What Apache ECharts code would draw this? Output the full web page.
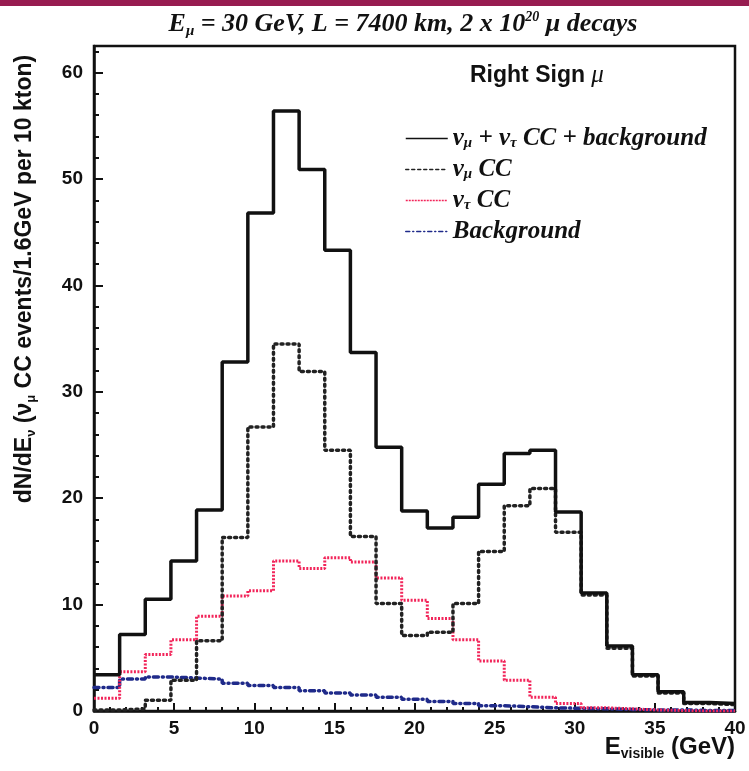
<!DOCTYPE html>
<html>
<head>
<meta charset="utf-8">
<script src="https://cdn.jsdelivr.net/npm/echarts@6/dist/echarts.min.js"></script>
<style>
  html, body { margin: 0; padding: 0; background: #fff; }
  #main { width: 749px; height: 771px; }
</style>
</head>
<body>
<div id="main"></div>
<script>
var dom = document.getElementById("main");
var chart = echarts.init(dom);

// histogram bins: 25 bins of 1.6 GeV from 0 to 40
var binWidth = 1.6;
var xTicks = [0, 5, 10, 15, 20, 25, 30, 35, 40];
var yTicks = [0, 10, 20, 30, 40, 50, 60];

var total = [3.4, 7.2, 10.5, 14.1, 18.9, 32.8, 46.8, 56.4, 50.9, 43.3, 33.7, 24.8, 18.8, 17.2, 18.2, 21.3, 24.2, 24.5, 18.7, 11.1, 6.1, 3.4, 1.8, 0.8, 0.7];
var numuCC = [0.1, 0.2, 1.0, 2.9, 6.6, 16.3, 26.7, 34.5, 31.9, 24.5, 16.4, 10.1, 7.1, 7.4, 10.1, 15.0, 19.3, 20.9, 16.8, 10.9, 5.9, 3.3, 1.7, 0.7, 0.6];
var nutauCC = [1.2, 3.7, 5.3, 6.7, 8.9, 10.8, 11.3, 14.1, 13.4, 14.4, 14.0, 12.5, 10.4, 8.7, 6.7, 4.7, 2.9, 1.3, 0.7, 0.3, 0.2, 0.1, 0.05, 0, 0];
var background = [2.2, 3.0, 3.2, 3.1, 3.0, 2.6, 2.4, 2.2, 1.9, 1.7, 1.5, 1.3, 1.1, 0.9, 0.7, 0.5, 0.4, 0.3, 0.25, 0.2, 0.15, 0.1, 0.1, 0.05, 0.05];

// turn bin contents into step points (left edge of each bin + closing point)
function steps(vals) {
  var pts = vals.map(function (v, i) { return [+(i * binWidth).toFixed(2), v]; });
  pts.push([+(vals.length * binWidth).toFixed(2), vals[vals.length - 1]]);
  return pts;
}

var serif = 'Liberation Serif';
var sans = 'Liberation Sans';

var legendLabels = {
  total: 'ν{sub|μ} + ν{sub|τ} CC + background',
  numu: 'ν{sub|μ} CC',
  nutau: 'ν{sub|τ} CC',
  bkg: 'Background'
};

option = {
  animation: false,
  backgroundColor: '#fff',
  title: {
    text: '{n|E}{s|μ}{n| = 30 GeV, L = 7400 km, 2 x 10}{p|20}{n| μ decays}',
    left: 398,
    top: 5,
    textAlign: 'center',
    textStyle: {
      rich: {
        n: { fontFamily: serif, fontStyle: 'italic', fontWeight: 'bold', fontSize: 26, color: '#111' },
        s: { fontFamily: serif, fontStyle: 'italic', fontWeight: 'bold', fontSize: 15, color: '#111', verticalAlign: 'bottom', padding: [14, 0, 0, 0] },
        p: { fontFamily: serif, fontStyle: 'italic', fontWeight: 'bold', fontSize: 14, color: '#111', verticalAlign: 'top', padding: [0, 0, 12, 0] }
      }
    }
  },
  grid: {
    left: 94, right: 14, top: 46, bottom: 60,
    show: true, borderColor: '#111', borderWidth: 2.5, backgroundColor: 'transparent'
  },
  legend: {
    orient: 'vertical',
    left: 400,
    top: 121,
    itemWidth: 42,
    itemHeight: 10,
    itemGap: 6,
    itemStyle: { opacity: 0 },
    data: [
      { name: 'total', lineStyle: { width: 1.5 } },
      { name: 'numu', lineStyle: { width: 1.5, type: [3, 3] } },
      { name: 'nutau', lineStyle: { width: 1.5, type: [2, 1] } },
      { name: 'bkg', lineStyle: { width: 1.5, type: [4, 3, 1, 3] } }
    ],
    formatter: function (name) { return legendLabels[name]; },
    textStyle: {
      fontFamily: serif, fontStyle: 'italic', fontWeight: 'bold', fontSize: 25, color: '#111',
      lineHeight: 24,
      padding: [0, 0, 0, 0],
      rich: {
        sub: { fontSize: 15, fontFamily: serif, fontStyle: 'italic', fontWeight: 'bold', verticalAlign: 'bottom', padding: [14, 0, 0, 0], color: '#111' }
      }
    }
  },
  xAxis: {
    type: 'value',
    min: xTicks[0],
    max: xTicks[xTicks.length - 1],
    interval: 5,
    axisLine: { lineStyle: { color: '#111', width: 2.5 } },
    axisTick: { inside: true, length: 8, lineStyle: { color: '#111', width: 2 } },
    minorTick: { show: true, splitNumber: 5, length: 4, lineStyle: { color: '#111', width: 2 } },
    splitLine: { show: false },
    axisLabel: { margin: 8, fontFamily: sans, fontWeight: 'bold', fontSize: 19, color: '#111' }
  },
  yAxis: {
    type: 'value',
    min: yTicks[0],
    max: 62.5,
    interval: 10,
    axisLine: { lineStyle: { color: '#111', width: 2.5 } },
    axisTick: { inside: true, length: 9, lineStyle: { color: '#111', width: 2 } },
    minorTick: { show: true, splitNumber: 5, length: 5, lineStyle: { color: '#111', width: 2 } },
    splitLine: { show: false },
    axisLabel: { margin: 11, showMaxLabel: false, fontFamily: sans, fontWeight: 'bold', fontSize: 19, color: '#111' }
  },
  series: [
    {
      name: 'bkg', type: 'line', step: 'end', symbol: 'none', data: steps(background),
      lineStyle: { color: '#1f2a8a', width: 3.5, type: [5, 4, 1, 4], cap: 'round' },
      itemStyle: { color: '#1f2a8a' }
    },
    {
      name: 'nutau', type: 'line', step: 'end', symbol: 'none', data: steps(nutauCC),
      lineStyle: { color: '#f2255a', width: 3, type: [2, 1.5] },
      itemStyle: { color: '#f2255a' }
    },
    {
      name: 'numu', type: 'line', step: 'end', symbol: 'none', data: steps(numuCC),
      lineStyle: { color: '#222', width: 3.5, type: [2, 4], cap: 'round' },
      itemStyle: { color: '#222' }
    },
    {
      name: 'total', type: 'line', step: 'end', symbol: 'none', data: steps(total),
      lineStyle: { color: '#111', width: 3.5 },
      itemStyle: { color: '#111' }
    }
  ],
  graphic: [
    { type: 'rect', left: 0, top: 0, shape: { width: 749, height: 6 }, style: { fill: '#971c50' }, silent: true },
    {
      type: 'text', left: 470, top: 63,
      style: {
        text: 'Right Sign {m|μ}',
        font: 'bold 23px "Liberation Sans"', fill: '#111',
        rich: { m: { fontFamily: serif, fontStyle: 'italic', fontSize: 25, fill: '#111' } }
      }
    },
    {
      type: 'text', x: 25, y: 279, rotation: Math.PI / 2,
      style: {
        text: 'dN/dE{s|ν} (ν{s|μ} CC events/1.6GeV per 10 kton)',
        font: 'bold 23px "Liberation Sans"', fill: '#111',
        align: 'center', verticalAlign: 'middle',
        rich: { s: { fontFamily: sans, fontWeight: 'bold', fontSize: 13, fill: '#111', verticalAlign: 'bottom', padding: [12, 0, 0, 0] } }
      }
    },
    {
      type: 'text', right: 14, top: 735,
      style: {
        text: 'E{s|visible} (GeV)',
        font: 'bold 24px "Liberation Sans"', fill: '#111',
        rich: { s: { fontFamily: sans, fontWeight: 'bold', fontSize: 14, fill: '#111', verticalAlign: 'bottom', padding: [14, 0, 0, 0] } }
      }
    }
  ]
};

if (option && typeof option === "object") {
  chart.setOption(option, true);
}
</script>
</body>
</html>
